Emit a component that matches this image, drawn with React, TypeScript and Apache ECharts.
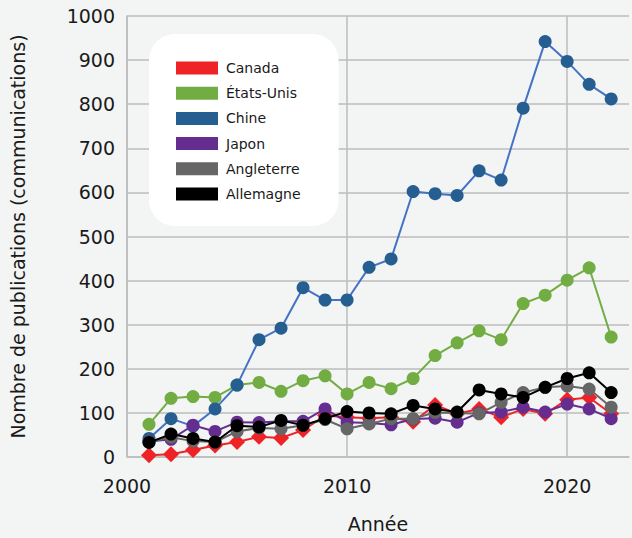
import React, { useEffect, useRef } from "react";
import * as echarts from "echarts";

const years = [2001, 2002, 2003, 2004, 2005, 2006, 2007, 2008, 2009, 2010, 2011, 2012, 2013, 2014, 2015, 2016, 2017, 2018, 2019, 2020, 2021, 2022];

const canada = [4, 6, 16, 26, 34, 46, 43, 61, 94, 90, 88, 90, 80, 118, 98, 109, 90, 109, 98, 130, 135, 98];
const etatsUnis = [74, 133, 137, 135, 163, 169, 149, 173, 184, 143, 169, 155, 178, 230, 259, 286, 266, 348, 367, 401, 429, 272];
const chine = [42, 87, 70, 109, 163, 266, 292, 384, 356, 356, 430, 449, 602, 597, 593, 649, 628, 791, 942, 897, 845, 812];
const japon = [35, 40, 72, 58, 79, 78, 81, 81, 109, 79, 77, 73, 86, 88, 79, 100, 102, 113, 102, 120, 109, 87];
const angleterre = [34, 45, 36, 34, 58, 66, 64, 72, 85, 64, 75, 87, 87, 101, 100, 98, 124, 146, 158, 161, 154, 113];
const allemagne = [33, 52, 42, 34, 71, 68, 83, 72, 87, 103, 100, 98, 117, 109, 102, 152, 143, 135, 158, 178, 191, 146];

const seriesNames = ["Canada", "États-Unis", "Chine", "Japon", "Angleterre", "Allemagne"];
const yTicks = [0, 100, 200, 300, 400, 500, 600, 700, 800, 900, 1000];
const xTicks = [2000, 2010, 2020];

const FONT = "DejaVu Sans";

export default function App() {
  const ref = useRef<HTMLDivElement>(null);
  useEffect(() => {
    if (!ref.current) return;
    const chart = echarts.init(ref.current, null, { renderer: "svg" });
    const values = [canada, etatsUnis, chine, japon, angleterre, allemagne];
    const markerColors = ["#ee2328", "#72ad44", "#255e91", "#652d90", "#666666", "#000000"];
    const lineColors = ["#ee2328", "#72ad44", "#4472c4", "#652d90", "#666666", "#000000"];
    const series = values.map((vals, i) => ({
      name: seriesNames[i],
      type: "line",
      data: years.map((y, j) => [y, vals[j]]),
      symbol: i === 0 ? "diamond" : "circle",
      symbolSize: i === 0 ? 16 : 13,
      z: 2 + i,
      itemStyle: { color: markerColors[i] },
      lineStyle: { color: lineColors[i], width: 2 },
    }));
    chart.setOption({
      animation: false,
      backgroundColor: "#f3f4f4",
      grid: { left: 127, right: 0, top: 16, bottom: 76, containLabel: false },
      legend: {
        orient: "vertical",
        left: 149,
        top: 34,
        data: seriesNames.map((n) => ({ name: n, icon: "rect" })),
        itemWidth: 42,
        itemHeight: 13,
        itemGap: 11.2,
        backgroundColor: "#ffffff",
        borderRadius: 26,
        padding: [27, 38, 25, 27],
        textStyle: { fontFamily: FONT, fontSize: 14, color: "#1a1a1a", padding: [0, 0, 0, 3] },
      },
      xAxis: {
        type: "value",
        min: 2000,
        max: 2022.81,
        interval: 10,
        name: "Année",
        nameLocation: "middle",
        nameGap: 57,
        nameTextStyle: { fontFamily: FONT, fontSize: 19, color: "#1a1a1a" },
        axisTick: { show: false },
        axisLine: { show: true, lineStyle: { color: "#bdbdbd", width: 1.5 } },
        axisLabel: {
          margin: 19,
          fontFamily: FONT,
          fontSize: 19,
          color: "#1a1a1a",
          formatter: (v: number) => (xTicks.indexOf(v) >= 0 ? String(v) : ""),
        },
        splitLine: { show: true, showMaxLine: false, lineStyle: { color: "#bdbdbd", width: 1.5 } },
      },
      yAxis: {
        type: "value",
        min: 0,
        max: 1000,
        interval: 100,
        name: "Nombre de publications (communications)",
        nameLocation: "middle",
        nameGap: 100,
        nameTextStyle: { fontFamily: FONT, fontSize: 19, color: "#1a1a1a" },
        axisTick: { show: false },
        axisLine: { show: true, lineStyle: { color: "#bdbdbd", width: 1.5 } },
        axisLabel: {
          margin: 12,
          fontFamily: FONT,
          fontSize: 19,
          color: "#1a1a1a",
          formatter: (v: number) => (yTicks.indexOf(v) >= 0 ? String(v) : ""),
        },
        splitLine: { show: true, lineStyle: { color: "#bdbdbd", width: 1.5 } },
      },
      series,
    });
    return () => chart.dispose();
  }, []);
  return (
    <div
      ref={ref}
      style={{ position: "fixed", left: 0, top: 0, width: 632, height: 538 }}
    />
  );
}
